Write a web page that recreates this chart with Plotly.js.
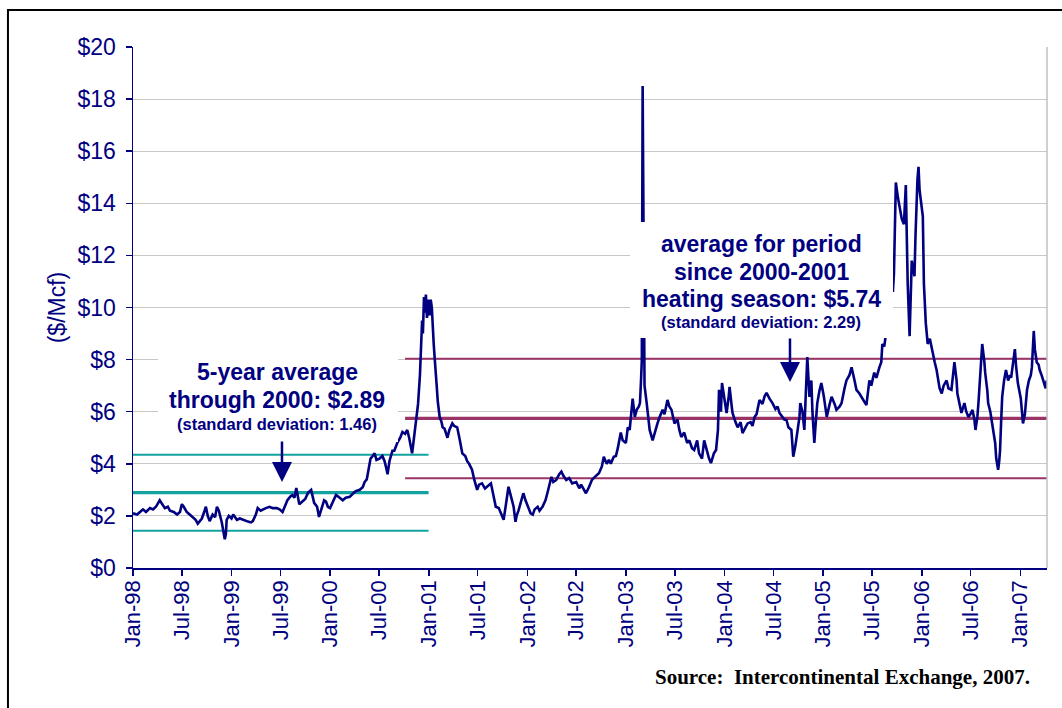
<!DOCTYPE html>
<html>
<head>
<meta charset="utf-8">
<script src="https://cdn.plot.ly/plotly-3.0.1.min.js"></script>
<style>html,body{margin:0;padding:0;background:#fff;}#chart{width:1062px;height:708px;}</style>
</head>
<body>
<div id="chart"></div>
<script>
// ---- data ----
const prices1998 = [['1998-01-01',2.10],['1998-01-16',2.05],['1998-01-27',2.15],['1998-02-07',2.25],['1998-02-18',2.15],['1998-03-05',2.30],['1998-03-16',2.25],['1998-03-27',2.35],['1998-04-10',2.60],['1998-04-18',2.45],['1998-04-29',2.30],['1998-05-10',2.35],['1998-05-18',2.20],['1998-06-01',2.15],['1998-06-13',2.05],['1998-06-24',2.15],['1998-07-01',2.45],['1998-07-08',2.35],['1998-07-19',2.15],['1998-07-30',2.05],['1998-08-10',1.95],['1998-08-21',1.85],['1998-08-29',1.70],['1998-09-05',1.80],['1998-09-13',1.90],['1998-09-20',2.10],['1998-09-28',2.35],['1998-10-05',2.00],['1998-10-12',1.80],['1998-10-23',2.05],['1998-11-01',1.95],['1998-11-08',2.35],['1998-11-15',2.20],['1998-11-26',1.75],['1998-12-03',1.40],['1998-12-07',1.10],['1998-12-11',1.30],['1998-12-14',1.85],['1998-12-22',2.00]];
const prices1999 = [['1999-01-01',1.90],['1999-01-07',2.05],['1999-01-14',1.95],['1999-01-21',1.85],['1999-02-01',1.90],['1999-02-12',1.85],['1999-02-23',1.80],['1999-03-03',1.78],['1999-03-14',1.75],['1999-03-21',1.80],['1999-04-01',2.05],['1999-04-08',2.30],['1999-04-19',2.20],['1999-04-27',2.25],['1999-05-08',2.30],['1999-05-22',2.35],['1999-06-02',2.30],['1999-06-17',2.30],['1999-06-28',2.25],['1999-07-09',2.15],['1999-07-20',2.45],['1999-07-27',2.60],['1999-08-07',2.75],['1999-08-14',2.80],['1999-08-22',2.70],['1999-08-29',3.07],['1999-09-09',2.45],['1999-09-20',2.55],['1999-10-01',2.65],['1999-10-12',2.90],['1999-10-23',3.00],['1999-11-03',2.50],['1999-11-14',2.35],['1999-11-21',1.96],['1999-12-02',2.30],['1999-12-10',2.60],['1999-12-17',2.55],['1999-12-24',2.35]];
const prices2000 = [['2000-01-01',2.30],['2000-01-12',2.55],['2000-01-23',2.80],['2000-01-30',2.75],['2000-02-10',2.65],['2000-02-17',2.60],['2000-02-28',2.70],['2000-03-14',2.73],['2000-03-25',2.85],['2000-04-05',2.95],['2000-04-20',3.00],['2000-05-01',3.10],['2000-05-08',3.30],['2000-05-16',3.40],['2000-05-23',3.80],['2000-05-30',4.20],['2000-06-07',4.30],['2000-06-14',4.40],['2000-06-21',4.15],['2000-07-02',4.20],['2000-07-13',4.30],['2000-07-21',4.10],['2000-07-28',3.80],['2000-08-01',3.60],['2000-08-08',4.10],['2000-08-19',4.50],['2000-08-26',4.50],['2000-09-06',4.80],['2000-09-17',5.00],['2000-09-25',5.22],['2000-10-05',5.15],['2000-10-13',5.30],['2000-10-20',5.00],['2000-10-27',4.60],['2000-10-31',4.40],['2000-11-07',5.00],['2000-11-15',5.60],['2000-11-22',6.30],['2000-11-29',7.40],['2000-12-03',8.75],['2000-12-07',9.50],['2000-12-10',9.00],['2000-12-14',10.40],['2000-12-18',9.80],['2000-12-21',10.50],['2000-12-25',9.60]];
const prices2001 = [['2001-01-01',10.30],['2001-01-04',9.70],['2001-01-08',10.30],['2001-01-12',10.00],['2001-01-15',9.20],['2001-01-19',8.60],['2001-01-23',8.00],['2001-01-26',7.40],['2001-01-30',7.00],['2001-02-03',6.40],['2001-02-10',5.80],['2001-02-17',5.60],['2001-02-21',5.40],['2001-02-28',5.35],['2001-03-11',5.00],['2001-03-18',5.30],['2001-03-29',5.55],['2001-04-05',5.45],['2001-04-16',5.40],['2001-04-24',5.00],['2001-05-05',4.40],['2001-05-16',4.30],['2001-05-23',4.10],['2001-05-30',4.00],['2001-06-10',3.77],['2001-06-18',3.40],['2001-06-29',3.00],['2001-07-06',3.20],['2001-07-17',3.25],['2001-07-28',3.05],['2001-08-04',3.12],['2001-08-12',3.20],['2001-08-19',3.25],['2001-08-26',2.90],['2001-09-06',2.35],['2001-09-17',2.30],['2001-09-25',2.10],['2001-10-05',1.85],['2001-10-13',2.40],['2001-10-23',3.12],['2001-10-31',2.80],['2001-11-11',2.35],['2001-11-18',1.77],['2001-11-22',2.00],['2001-11-29',2.20],['2001-12-10',2.60],['2001-12-17',2.87],['2001-12-25',2.60]];
const prices2002 = [['2002-01-06',2.30],['2002-01-13',2.10],['2002-01-21',2.05],['2002-01-28',2.25],['2002-02-08',2.35],['2002-02-15',2.20],['2002-02-26',2.35],['2002-03-09',2.60],['2002-03-16',2.87],['2002-03-24',3.20],['2002-03-31',3.50],['2002-04-07',3.30],['2002-04-18',3.38],['2002-04-29',3.60],['2002-05-07',3.70],['2002-05-14',3.55],['2002-05-25',3.38],['2002-06-05',3.45],['2002-06-16',3.25],['2002-07-01',3.30],['2002-07-12',3.06],['2002-07-19',3.20],['2002-07-30',3.00],['2002-08-06',2.87],['2002-08-17',3.10],['2002-08-28',3.38],['2002-09-08',3.50],['2002-09-23',3.64],['2002-10-04',3.90],['2002-10-11',4.27],['2002-10-22',4.00],['2002-10-30',4.15],['2002-11-06',4.00],['2002-11-17',4.27],['2002-11-25',4.30],['2002-12-02',4.60],['2002-12-13',5.20],['2002-12-20',4.90]];
const prices2003 = [['2003-01-01',4.80],['2003-01-08',5.40],['2003-01-15',5.30],['2003-01-23',6.20],['2003-01-26',6.50],['2003-02-03',5.80],['2003-02-10',6.07],['2003-02-18',6.20],['2003-02-22',6.33],['2003-02-26',7.20],['2003-03-01',8.00],['2003-03-04',18.50],['2003-03-08',8.40],['2003-03-11',7.00],['2003-03-19',6.33],['2003-03-30',5.30],['2003-04-10',4.90],['2003-04-17',5.20],['2003-04-28',5.55],['2003-05-06',5.80],['2003-05-17',6.07],['2003-05-24',5.90],['2003-06-04',6.45],['2003-06-11',6.20],['2003-06-19',6.07],['2003-06-30',5.55],['2003-07-11',5.70],['2003-07-18',5.30],['2003-07-25',5.03],['2003-08-05',5.20],['2003-08-16',4.80],['2003-08-24',4.90],['2003-09-03',4.60],['2003-09-11',4.53],['2003-09-22',4.90],['2003-09-29',4.40],['2003-10-10',4.20],['2003-10-18',4.90],['2003-10-25',4.60],['2003-11-05',4.20],['2003-11-12',4.03],['2003-11-23',4.40],['2003-12-01',4.53],['2003-12-08',5.30],['2003-12-12',6.84],['2003-12-19',6.00],['2003-12-23',7.10]];
const prices2004 = [['2004-01-02',6.50],['2004-01-09',5.95],['2004-01-17',6.60],['2004-01-20',6.95],['2004-01-28',6.20],['2004-01-31',5.95],['2004-02-11',5.60],['2004-02-19',5.40],['2004-03-01',5.60],['2004-03-08',5.18],['2004-03-19',5.40],['2004-03-27',5.55],['2004-04-07',5.60],['2004-04-14',5.45],['2004-04-22',5.80],['2004-04-29',5.90],['2004-05-10',6.45],['2004-05-21',6.30],['2004-05-29',6.60],['2004-06-05',6.72],['2004-06-16',6.50],['2004-06-27',6.33],['2004-07-08',6.10],['2004-07-16',6.20],['2004-07-23',5.95],['2004-08-03',5.80],['2004-08-10',5.70],['2004-08-18',5.68],['2004-08-25',5.40],['2004-09-05',5.30],['2004-09-12',4.27],['2004-09-20',4.70],['2004-09-27',5.30],['2004-10-05',5.80],['2004-10-08',6.33],['2004-10-16',6.00],['2004-10-23',5.30],['2004-10-31',7.00],['2004-11-03',8.10],['2004-11-11',6.57],['2004-11-18',7.20],['2004-11-22',6.00],['2004-11-29',4.80],['2004-12-03',5.40],['2004-12-10',6.33],['2004-12-18',6.80],['2004-12-25',7.10]];
const prices2005 = [['2005-01-03',6.60],['2005-01-14',5.80],['2005-01-25',6.30],['2005-02-01',6.57],['2005-02-12',6.30],['2005-02-19',6.07],['2005-03-03',6.20],['2005-03-10',6.33],['2005-03-21',6.90],['2005-03-28',7.20],['2005-04-08',7.40],['2005-04-16',7.70],['2005-04-27',7.20],['2005-05-04',6.84],['2005-05-15',6.70],['2005-05-22',6.57],['2005-06-02',6.40],['2005-06-10',6.25],['2005-06-21',7.20],['2005-06-28',7.00],['2005-07-09',7.50],['2005-07-17',7.30],['2005-07-28',7.70],['2005-08-04',7.90],['2005-08-08',8.60],['2005-08-15',8.50],['2005-08-19',8.80],['2005-08-26',9.60],['2005-09-02',10.80],['2005-09-09',11.00],['2005-09-13',11.40],['2005-09-16',10.60],['2005-09-20',11.30],['2005-09-24',13.00],['2005-09-27',14.80],['2005-10-05',14.20],['2005-10-12',13.70],['2005-10-19',13.40],['2005-10-27',13.20],['2005-10-30',14.00],['2005-11-03',14.70],['2005-11-07',12.50],['2005-11-10',10.90],['2005-11-17',8.90],['2005-11-25',11.80],['2005-12-02',11.40],['2005-12-05',11.20],['2005-12-09',12.80],['2005-12-13',14.40],['2005-12-16',14.90],['2005-12-20',15.40],['2005-12-24',14.50]];
const prices2006 = [['2006-01-05',13.50],['2006-01-09',10.90],['2006-01-16',9.40],['2006-01-23',8.60],['2006-01-31',8.80],['2006-02-07',8.40],['2006-02-14',8.00],['2006-02-18',7.90],['2006-02-25',7.60],['2006-03-01',7.30],['2006-03-08',6.90],['2006-03-16',6.70],['2006-03-23',7.00],['2006-04-03',7.20],['2006-04-10',6.90],['2006-04-21',6.84],['2006-05-02',7.90],['2006-05-10',7.20],['2006-05-13',6.70],['2006-05-21',6.30],['2006-05-28',5.95],['2006-06-08',6.33],['2006-06-15',6.00],['2006-06-23',5.80],['2006-06-30',5.90],['2006-07-08',6.07],['2006-07-15',5.70],['2006-07-19',5.30],['2006-07-26',5.80],['2006-07-30',6.33],['2006-08-06',7.40],['2006-08-13',8.60],['2006-08-21',7.90],['2006-08-24',7.50],['2006-09-01',6.80],['2006-09-04',6.33],['2006-09-12',6.00],['2006-09-19',5.55],['2006-09-26',5.00],['2006-09-30',4.80],['2006-10-04',4.20],['2006-10-11',3.77],['2006-10-15',4.10],['2006-10-18',4.50],['2006-10-22',5.60],['2006-10-26',6.57],['2006-11-02',7.20],['2006-11-09',7.60],['2006-11-17',7.20],['2006-11-24',7.40],['2006-11-28',7.30],['2006-12-05',7.90],['2006-12-12',8.40],['2006-12-16',7.80],['2006-12-23',7.10]];
const prices2007 = [['2007-01-03',6.50],['2007-01-07',5.90],['2007-01-11',5.55],['2007-01-18',5.90],['2007-01-26',6.84],['2007-02-02',7.20],['2007-02-09',7.40],['2007-02-13',7.70],['2007-02-16',8.60],['2007-02-20',9.10],['2007-02-24',8.40],['2007-03-03',7.90],['2007-03-10',7.80],['2007-03-14',7.60],['2007-03-21',7.40],['2007-03-29',7.10],['2007-04-05',6.90],['2007-04-09',7.20]];

// reference statistics stated on the chart
const fiveYearPeriod = ['1998-01-01', '2000-12-31'];
const fiveYearMean = 2.89, fiveYearSD = 1.46;
const recentPeriod = ['2000-10-05', '2007-04-10'];
const recentMean = 5.74, recentSD = 2.29;

const yTicks = [0, 2, 4, 6, 8, 10, 12, 14, 16, 18, 20];
const yTickText = yTicks.map(v => '$' + v);

// ---- build ----
const allPrices = [].concat(prices1998, prices1999, prices2000, prices2001, prices2002,
  prices2003, prices2004, prices2005, prices2006, prices2007);
const NAVY = '#000080', TEAL = '#12A3A0', PLUM = '#9B3466';
const FONT = 'Arial, "Liberation Sans", sans-serif';

function hline(period, val, color, width) {
  return {x: period, y: [val, val], type: 'scatter', mode: 'lines',
          line: {color: color, width: width}, hoverinfo: 'skip', showlegend: false};
}

const traces = [
  hline(fiveYearPeriod, fiveYearMean + fiveYearSD, TEAL, 2),
  hline(fiveYearPeriod, fiveYearMean, TEAL, 3.2),
  hline(fiveYearPeriod, fiveYearMean - fiveYearSD, TEAL, 2),
  hline(recentPeriod, recentMean + recentSD, PLUM, 2),
  hline(recentPeriod, recentMean, PLUM, 3.2),
  hline(recentPeriod, recentMean - recentSD, PLUM, 2),
  {x: allPrices.map(p => p[0]), y: allPrices.map(p => p[1]), type: 'scatter', mode: 'lines',
   line: {color: NAVY, width: 2.6}, showlegend: false}
];

function txt(x, y, text, size) {
  return {xref: 'paper', yref: 'paper', x: x, y: y, text: text, showarrow: false,
          xanchor: 'center', yanchor: 'middle',
          font: {family: FONT, size: size, color: NAVY}};
}
function arrow(x, y, ay) {
  return {xref: 'paper', yref: 'paper', x: x, y: y, ax: 0, ay: ay, text: '', showarrow: true,
          arrowhead: 2, arrowsize: 1.6, arrowwidth: 2.5, arrowcolor: NAVY};
}

const layout = {
  width: 1062, height: 708,
  margin: {l: 133, r: 15, t: 47, b: 140},
  paper_bgcolor: '#fff', plot_bgcolor: '#fff',
  font: {family: FONT, color: NAVY},
  showlegend: false,
  xaxis: {
    type: 'date', range: ['1998-01-01', '2007-04-10'],
    tick0: '1998-01-01', dtick: 'M6', tickformat: '%b-%y', tickangle: -90,
    tickfont: {family: FONT, size: 22, color: NAVY},
    ticklabelstandoff: -4,
    showgrid: false, zeroline: false,
    showline: true, linecolor: NAVY, linewidth: 1.5,
    ticks: 'outside', ticklen: 6, tickcolor: NAVY, tickwidth: 1.5
  },
  yaxis: {
    range: [0, 20], tickvals: yTicks, ticktext: yTickText,
    tickfont: {family: FONT, size: 23, color: NAVY},
    ticklabelstandoff: 5,
    showgrid: true, gridcolor: '#C8C8C8', gridwidth: 1, zeroline: false,
    showline: true, linecolor: NAVY, linewidth: 1.5,
    ticks: 'outside', ticklen: 6, tickcolor: NAVY, tickwidth: 1.5,
    title: {text: '($/Mcf)', font: {family: FONT, size: 23, color: NAVY}, standoff: 5}
  },
  shapes: [
    {type: 'line', xref: 'paper', yref: 'paper', x0: 1, x1: 1, y0: 0, y1: 1,
     line: {color: '#C0C0C0', width: 1.5}},
    {type: 'rect', xref: 'paper', yref: 'paper', x0: 0.0274, x1: 0.2899, y0: 0.2418, y1: 0.4184,
     fillcolor: '#fff', line: {width: 0}, layer: 'above'},
    {type: 'rect', xref: 'paper', yref: 'paper', x0: 0.5438, x1: 0.8315, y0: 0.4415, y1: 0.6641,
     fillcolor: '#fff', line: {width: 0}, layer: 'above'},
    {type: 'rect', xref: 'paper', yref: 'paper', x0: -0.1368, x1: 1.08, y0: -0.30, y1: 1.071,
     fillcolor: 'rgba(0,0,0,0)', line: {color: '#000', width: 2}, layer: 'above'}
  ],
  annotations: [
    txt(0.1576, 0.3762, '<b>5-year average</b>', 23),
    txt(0.1576, 0.3225, '<b>through 2000: $2.89</b>', 23),
    txt(0.1576, 0.2764, '<b>(standard deviation: 1.46)</b>', 16.5),
    txt(0.6871, 0.6219, '<b>average for period</b>', 23),
    txt(0.6871, 0.5681, '<b>since 2000-2001</b>', 23),
    txt(0.6871, 0.5163, '<b>heating season: $5.74</b>', 23),
    txt(0.6871, 0.4722, '<b>(standard deviation: 2.29)</b>', 16.5),
    arrow(0.163, 0.165, -42),
    arrow(0.7188, 0.357, -45),
    {xref: 'paper', yref: 'paper', x: 0.9836, y: -0.2092, xanchor: 'right', yanchor: 'middle',
     showarrow: false, text: '<b>Source:  Intercontinental Exchange, 2007.</b>',
     font: {family: '"Times New Roman", "Liberation Serif", serif', size: 21, color: '#000'}}
  ]
};

Plotly.newPlot('chart', traces, layout, {displayModeBar: false, staticPlot: true});
</script>
</body>
</html>
